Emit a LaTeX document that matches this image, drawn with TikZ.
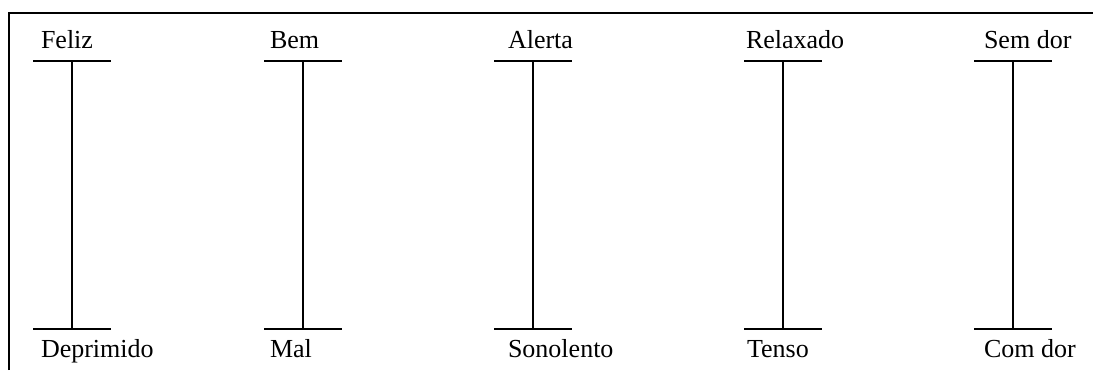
\documentclass[tikz,border=0pt]{standalone}
\usepackage{fontspec}
\setmainfont{Liberation Serif}
\usepackage{tikz}

\begin{document}
\begin{tikzpicture}[x = 0.02cm, y = -0.02cm, line width = 1.15pt,
    lbl/.style = {anchor = base west, inner sep = 0pt, font = \fontsize{14.8}{17}\selectfont}]
\useasboundingbox (0,0) rectangle (1093,370);
% frame
\draw[line width = 1.4pt] (9,370) -- (9,13) -- (1093,13);
% scale ends
\coordinate (t1) at (72,61);  \coordinate (b1) at (72,329);
\coordinate (t2) at (303,61); \coordinate (b2) at (303,329);
\coordinate (t3) at (533,61); \coordinate (b3) at (533,329);
\coordinate (t4) at (783,61); \coordinate (b4) at (783,329);
\coordinate (t5) at (1013,61); \coordinate (b5) at (1013,329);
% labels
\draw (40,48) node[lbl](feliz){Feliz}
    (40,357) node[lbl](deprimido){Deprimido}
    (269,48) node[lbl](bem){Bem}
    (269,357) node[lbl](mal){Mal}
    (507,48) node[lbl](alerta){Alerta}
    (507,357) node[lbl](sonolento){Sonolento}
    (745,48) node[lbl](relaxado){Relaxado}
    (746,357) node[lbl](tenso){Tenso}
    (983,48) node[lbl](semdor){Sem dor}
    (983,357) node[lbl](comdor){Com dor};
% scales
\foreach \i in {1,...,5}{
    \draw [-] (t\i) -- (b\i);
    \draw [-] ([xshift=-39*0.02cm]t\i) -- ([xshift=39*0.02cm]t\i);
    \draw [-] ([xshift=-39*0.02cm]b\i) -- ([xshift=39*0.02cm]b\i);
}
\end{tikzpicture}
\end{document}
